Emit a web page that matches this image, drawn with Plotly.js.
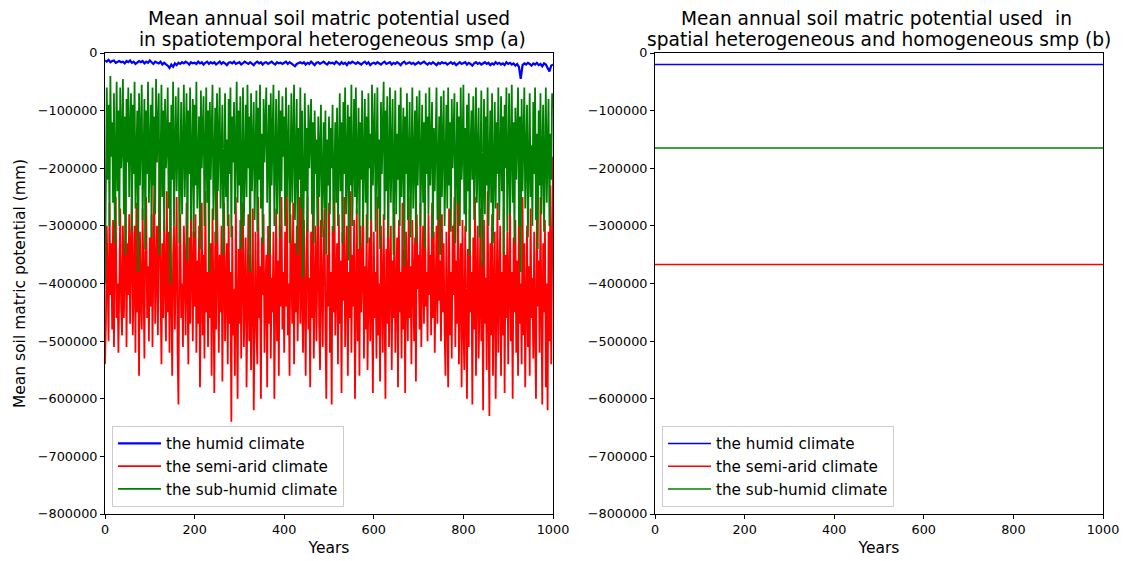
<!DOCTYPE html>
<html>
<head>
<meta charset="utf-8">
<script src="https://cdn.plot.ly/plotly-3.0.1.min.js"></script>
<style>html,body{margin:0;padding:0;background:#fff;}#chart{width:1126px;height:561px;}</style>
</head>
<body>
<div id="chart"></div>
<script>
// Values in thousands of mm (multiplied by UNIT when plotted)
const UNIT = 1000;
const yearsHumid = [];
for (let y = 0; y <= 1000; y += 4) yearsHumid.push(y);
const yearsDry = [];
for (let y = 0; y <= 1000; y += 2) yearsDry.push(y);

const humidK = [
-13,-15,-12,-16,-14,-13,-17,-15,-14,-16,
-15,-18,-14,-16,-13,-17,-15,-19,-16,-14,
-16,-14,-18,-15,-17,-13,-16,-19,-15,-17,
-18,-15,-20,-17,-19,-22,-26,-20,-24,-18,
-21,-17,-19,-16,-18,-15,-17,-20,-16,-18,
-17,-19,-15,-18,-16,-20,-17,-15,-19,-16,
-18,-16,-20,-17,-15,-19,-16,-18,-21,-17,
-16,-18,-15,-19,-17,-16,-20,-18,-15,-17,
-19,-16,-18,-21,-17,-15,-18,-16,-20,-17,
-16,-19,-17,-15,-18,-20,-16,-18,-17,-19,
-17,-15,-19,-16,-18,-20,-23,-19,-17,-16,
-18,-16,-20,-17,-19,-15,-18,-21,-17,-16,
-19,-17,-15,-18,-20,-16,-18,-17,-19,-15,
-18,-20,-16,-19,-17,-21,-16,-18,-15,-17,
-19,-16,-18,-20,-17,-15,-19,-16,-21,-18,
-17,-19,-16,-18,-20,-17,-15,-19,-18,-16,
-20,-17,-19,-16,-18,-21,-17,-15,-19,-18,
-16,-19,-17,-20,-18,-16,-19,-17,-15,-18,
-20,-17,-19,-16,-18,-21,-17,-19,-16,-18,
-17,-20,-18,-16,-19,-17,-21,-18,-16,-19,
-18,-16,-20,-17,-19,-22,-18,-16,-19,-17,
-20,-18,-16,-19,-17,-21,-18,-20,-16,-19,
-17,-20,-18,-21,-16,-19,-17,-20,-18,-22,
-19,-24,-45,-21,-18,-20,-17,-19,-22,-18,
-20,-17,-21,-19,-23,-18,-20,-26,-32,-22,
-20];

const semiAridK = [
-540,-470,-300,-380,-500,-260,-420,-330,-480,-290,
-510,-350,-250,-460,-400,-520,-310,-270,-440,-490,
-300,-460,-380,-240,-510,-330,-420,-280,-470,-360,
-230,-490,-400,-300,-520,-260,-450,-350,-560,-310,
-420,-480,-270,-390,-530,-300,-250,-460,-370,-500,
-320,-440,-280,-510,-360,-220,-470,-400,-300,-490,
-260,-150,-410,-540,-330,-460,-290,-380,-500,-240,
-450,-310,-520,-270,-430,-560,-350,-300,-480,-390,
-250,-520,-610,-340,-280,-460,-400,-510,-300,-370,
-490,-260,-430,-540,-320,-470,-250,-390,-500,-310,
-440,-280,-520,-360,-470,-300,-580,-410,-260,-490,
-350,-530,-240,-450,-380,-510,-290,-460,-330,-560,
-270,-420,-590,-310,-480,-230,-400,-520,-350,-450,
-300,-570,-380,-260,-500,-430,-330,-540,-280,-470,
-380,-640,-300,-490,-410,-560,-250,-450,-600,-340,
-470,-290,-530,-380,-260,-510,-440,-320,-580,-400,
-280,-500,-350,-550,-430,-270,-620,-390,-310,-480,
-540,-250,-460,-370,-600,-320,-420,-280,-520,-410,
-350,-580,-300,-470,-240,-530,-390,-450,-310,-600,
-420,-270,-500,-360,-560,-300,-440,-250,-480,-380,
-520,-310,-440,-230,-490,-400,-560,-280,-370,-470,
-260,-540,-330,-450,-300,-500,-380,-250,-470,-180,
-430,-520,-290,-400,-560,-340,-250,-480,-390,-580,
-310,-460,-270,-530,-410,-300,-500,-360,-240,-470,
-550,-290,-420,-510,-330,-270,-480,-600,-350,-440,
-260,-520,-380,-610,-300,-450,-200,-490,-400,-330,
-540,-280,-470,-360,-590,-310,-430,-250,-510,-400,
-300,-560,-380,-460,-240,-520,-350,-440,-290,-600,
-410,-270,-500,-340,-560,-300,-450,-390,-230,-530,
-370,-480,-280,-550,-420,-320,-500,-260,-440,-590,
-310,-460,-380,-530,-250,-490,-400,-570,-300,-440,
-520,-280,-420,-600,-340,-470,-230,-510,-390,-300,
-550,-360,-460,-270,-520,-410,-320,-580,-290,-450,
-380,-530,-260,-480,-340,-590,-310,-420,-500,-250,
-460,-370,-540,-290,-430,-500,-320,-570,-280,-410,
-350,-480,-260,-510,-400,-300,-470,-240,-440,-380,
-500,-280,-420,-350,-490,-260,-460,-310,-520,-390,
-300,-470,-240,-430,-360,-500,-280,-450,-330,-480,
-560,-310,-440,-580,-270,-490,-380,-530,-300,-420,
-250,-510,-360,-470,-220,-540,-400,-330,-580,-290,
-470,-550,-300,-420,-600,-340,-510,-270,-450,-380,
-610,-320,-480,-250,-560,-400,-300,-530,-440,-270,
-500,-360,-620,-290,-470,-390,-550,-240,-450,-630,
-330,-490,-280,-560,-410,-310,-600,-370,-260,-520,
-440,-300,-560,-380,-490,-270,-590,-350,-460,-310,
-540,-410,-260,-500,-380,-600,-320,-450,-290,-520,
-360,-560,-280,-470,-400,-540,-250,-490,-330,-580,
-420,-300,-510,-370,-560,-270,-460,-390,-530,-310,
-480,-600,-280,-440,-360,-520,-250,-470,-610,-330,
-450,-290,-580,-400,-620,-310,-500,-230,-540,-360,
-180];

const subHumidK = [
-400,-150,-60,-220,-90,-300,-40,-180,-120,-260,
-70,-330,-140,-50,-240,-100,-300,-60,-200,-160,
-45,-280,-110,-350,-80,-190,-60,-250,-130,-70,
-310,-90,-210,-50,-270,-160,-100,-380,-70,-230,
-120,-55,-290,-180,-80,-340,-100,-210,-50,-260,
-150,-90,-320,-60,-230,-110,-280,-45,-190,-130,
-70,-350,-140,-55,-250,-100,-310,-80,-200,-160,
-60,-270,-120,-400,-90,-220,-50,-300,-170,-75,
-240,-110,-60,-330,-150,-85,-280,-190,-55,-250,
-130,-70,-360,-100,-210,-60,-290,-140,-80,-320,
-90,-230,-50,-270,-170,-110,-340,-65,-200,-130,
-75,-300,-150,-60,-260,-100,-380,-85,-220,-120,
-55,-290,-160,-95,-330,-70,-240,-110,-60,-270,
-180,-90,-350,-120,-70,-250,-150,-300,-80,-210,
-60,-320,-110,-190,-85,-280,-140,-50,-260,-100,
-230,-75,-340,-130,-60,-300,-170,-90,-250,-55,
-200,-110,-380,-70,-240,-150,-85,-290,-120,-65,
-310,-95,-220,-55,-270,-140,-330,-80,-190,-110,
-60,-260,-160,-90,-350,-70,-230,-125,-55,-300,
-150,-80,-280,-200,-65,-320,-100,-240,-75,-180,
-110,-300,-60,-250,-140,-90,-330,-170,-70,-260,
-120,-55,-290,-190,-80,-350,-130,-220,-60,-270,
-100,-390,-160,-70,-240,-130,-310,-90,-200,-140,
-80,-280,-120,-330,-100,-210,-150,-300,-110,-250,
-140,-90,-320,-180,-120,-270,-100,-350,-150,-230,
-110,-280,-130,-200,-90,-310,-160,-120,-260,-95,
-300,-150,-70,-240,-120,-330,-85,-210,-60,-280,
-140,-90,-360,-110,-230,-55,-300,-160,-80,-250,
-60,-280,-170,-95,-340,-120,-220,-65,-300,-150,
-80,-260,-110,-330,-70,-200,-140,-290,-55,-230,
-120,-70,-310,-180,-60,-270,-150,-340,-85,-210,
-130,-50,-290,-100,-240,-75,-320,-160,-60,-260,
-190,-80,-350,-120,-65,-280,-140,-220,-90,-300,
-60,-250,-170,-95,-370,-110,-210,-70,-290,-150,
-85,-320,-130,-60,-270,-190,-100,-330,-75,-230,
-140,-65,-300,-180,-90,-260,-120,-340,-70,-210,
-110,-280,-60,-230,-150,-85,-320,-130,-240,-95,
-60,-290,-170,-110,-350,-75,-250,-140,-65,-300,
-190,-90,-270,-60,-230,-120,-310,-80,-200,-140,
-70,-330,-150,-85,-260,-110,-300,-60,-220,-170,
-55,-280,-130,-310,-90,-240,-70,-350,-160,-100,
-220,-75,-290,-140,-60,-260,-180,-95,-320,-120,
-65,-370,-150,-80,-280,-110,-230,-60,-300,-190,
-100,-260,-70,-330,-140,-85,-270,-120,-210,-60,
-290,-150,-75,-240,-110,-350,-90,-200,-60,-310,
-130,-70,-280,-170,-55,-260,-120,-330,-95,-220,
-150,-60,-300,-110,-380,-80,-240,-140,-60,-270,
-190,-90,-320,-120,-70,-250,-160,-300,-85,-210,
-60,-290,-140,-340,-100,-230,-70,-280,-150,-90,
-310,-120,-60,-260,-180,-80,-300,-140,-220,-70,
-95];

// Panel (b): constant values
const constYears = [0, 1000];
const humidConst = [-20000, -20000];
const semiAridConst = [-367000, -367000];
const subHumidConst = [-165000, -165000];

const scale = arr => arr.map(v => v * UNIT);

const BLUE = '#0000ff', RED = '#ff0000', GREEN = '#008000';
const FONT = 'DejaVu Sans, sans-serif';

const traces = [
  {x: yearsHumid, y: scale(humidK), type: 'scatter', mode: 'lines', name: 'the humid climate',
   line: {color: BLUE, width: 2.2}, xaxis: 'x', yaxis: 'y', legend: 'legend'},
  {x: yearsDry, y: scale(semiAridK), type: 'scatter', mode: 'lines', name: 'the semi-arid climate',
   line: {color: RED, width: 1.8}, xaxis: 'x', yaxis: 'y', legend: 'legend'},
  {x: yearsDry, y: scale(subHumidK), type: 'scatter', mode: 'lines', name: 'the sub-humid climate',
   line: {color: GREEN, width: 1.8}, xaxis: 'x', yaxis: 'y', legend: 'legend'},
  {x: constYears, y: humidConst, type: 'scatter', mode: 'lines', name: 'the humid climate',
   line: {color: BLUE, width: 1.5}, xaxis: 'x2', yaxis: 'y2', legend: 'legend2'},
  {x: constYears, y: semiAridConst, type: 'scatter', mode: 'lines', name: 'the semi-arid climate',
   line: {color: RED, width: 1.5}, xaxis: 'x2', yaxis: 'y2', legend: 'legend2'},
  {x: constYears, y: subHumidConst, type: 'scatter', mode: 'lines', name: 'the sub-humid climate',
   line: {color: GREEN, width: 1.5}, xaxis: 'x2', yaxis: 'y2', legend: 'legend2'}
];

const W = 1126, H = 561;
const axisCommon = {
  showgrid: false, zeroline: false, showline: true, mirror: true,
  linecolor: '#000', linewidth: 1, ticks: 'outside', ticklen: 4, tickwidth: 1,
  tickcolor: '#000', tickfont: {family: FONT, size: 12.8, color: '#000'}
};
const xCommon = Object.assign({}, axisCommon, {
  range: [0, 1000], tickvals: [0, 200, 400, 600, 800, 1000],
  title: {text: 'Years', font: {family: FONT, size: 15.5, color: '#000'}, standoff: 5}
});
const yCommon = Object.assign({}, axisCommon, {
  range: [-800000, 0], tickvals: [0, -100000, -200000, -300000, -400000, -500000, -600000, -700000, -800000],
  tickformat: 'd'
});
const ydom = [(H - 514) / H, (H - 53) / H];
const legendCommon = {
  font: {family: FONT, size: 15.2, color: '#000'},
  bgcolor: 'rgba(255,255,255,0.8)', bordercolor: '#cccccc', borderwidth: 1,
  xanchor: 'left', yanchor: 'bottom', tracegroupgap: 0, itemwidth: 43
};

const titleFont = {family: FONT, size: 18.6, color: '#000'};
const titleLine = (text, xpx, ypx) => ({
  text: text, xref: 'paper', yref: 'paper', x: xpx / W, y: (H - ypx) / H,
  xanchor: 'center', yanchor: 'middle', showarrow: false, font: titleFont
});

const layout = {
  width: W, height: H,
  margin: {l: 0, r: 0, t: 0, b: 0},
  paper_bgcolor: '#fff', plot_bgcolor: '#fff',
  font: {family: FONT, color: '#000'},
  showlegend: true,
  xaxis: Object.assign({}, xCommon, {domain: [105 / W, 553 / W], anchor: 'y'}),
  yaxis: Object.assign({}, yCommon, {domain: ydom, anchor: 'x',
    title: {text: 'Mean soil matric potential (mm)', font: {family: FONT, size: 15.5, color: '#000'}, standoff: 8}}),
  xaxis2: Object.assign({}, xCommon, {domain: [655 / W, 1103 / W], anchor: 'y2'}),
  yaxis2: Object.assign({}, yCommon, {domain: ydom, anchor: 'x2'}),
  legend: Object.assign({}, legendCommon, {x: 112 / W, y: (H - 507) / H}),
  legend2: Object.assign({}, legendCommon, {x: 662 / W, y: (H - 507) / H}),
  annotations: [
    titleLine('Mean annual soil matric potential used', 329, 19),
    titleLine('\u00a0in spatiotemporal heterogeneous smp (a)', 329, 40),
    titleLine('Mean annual soil matric potential used \u00a0in\u00a0', 879, 19),
    titleLine('spatial heterogeneous and homogeneous smp (b)', 879, 40)
  ]
};

Plotly.newPlot('chart', traces, layout, {displayModeBar: false, staticPlot: true});
</script>
</body>
</html>
